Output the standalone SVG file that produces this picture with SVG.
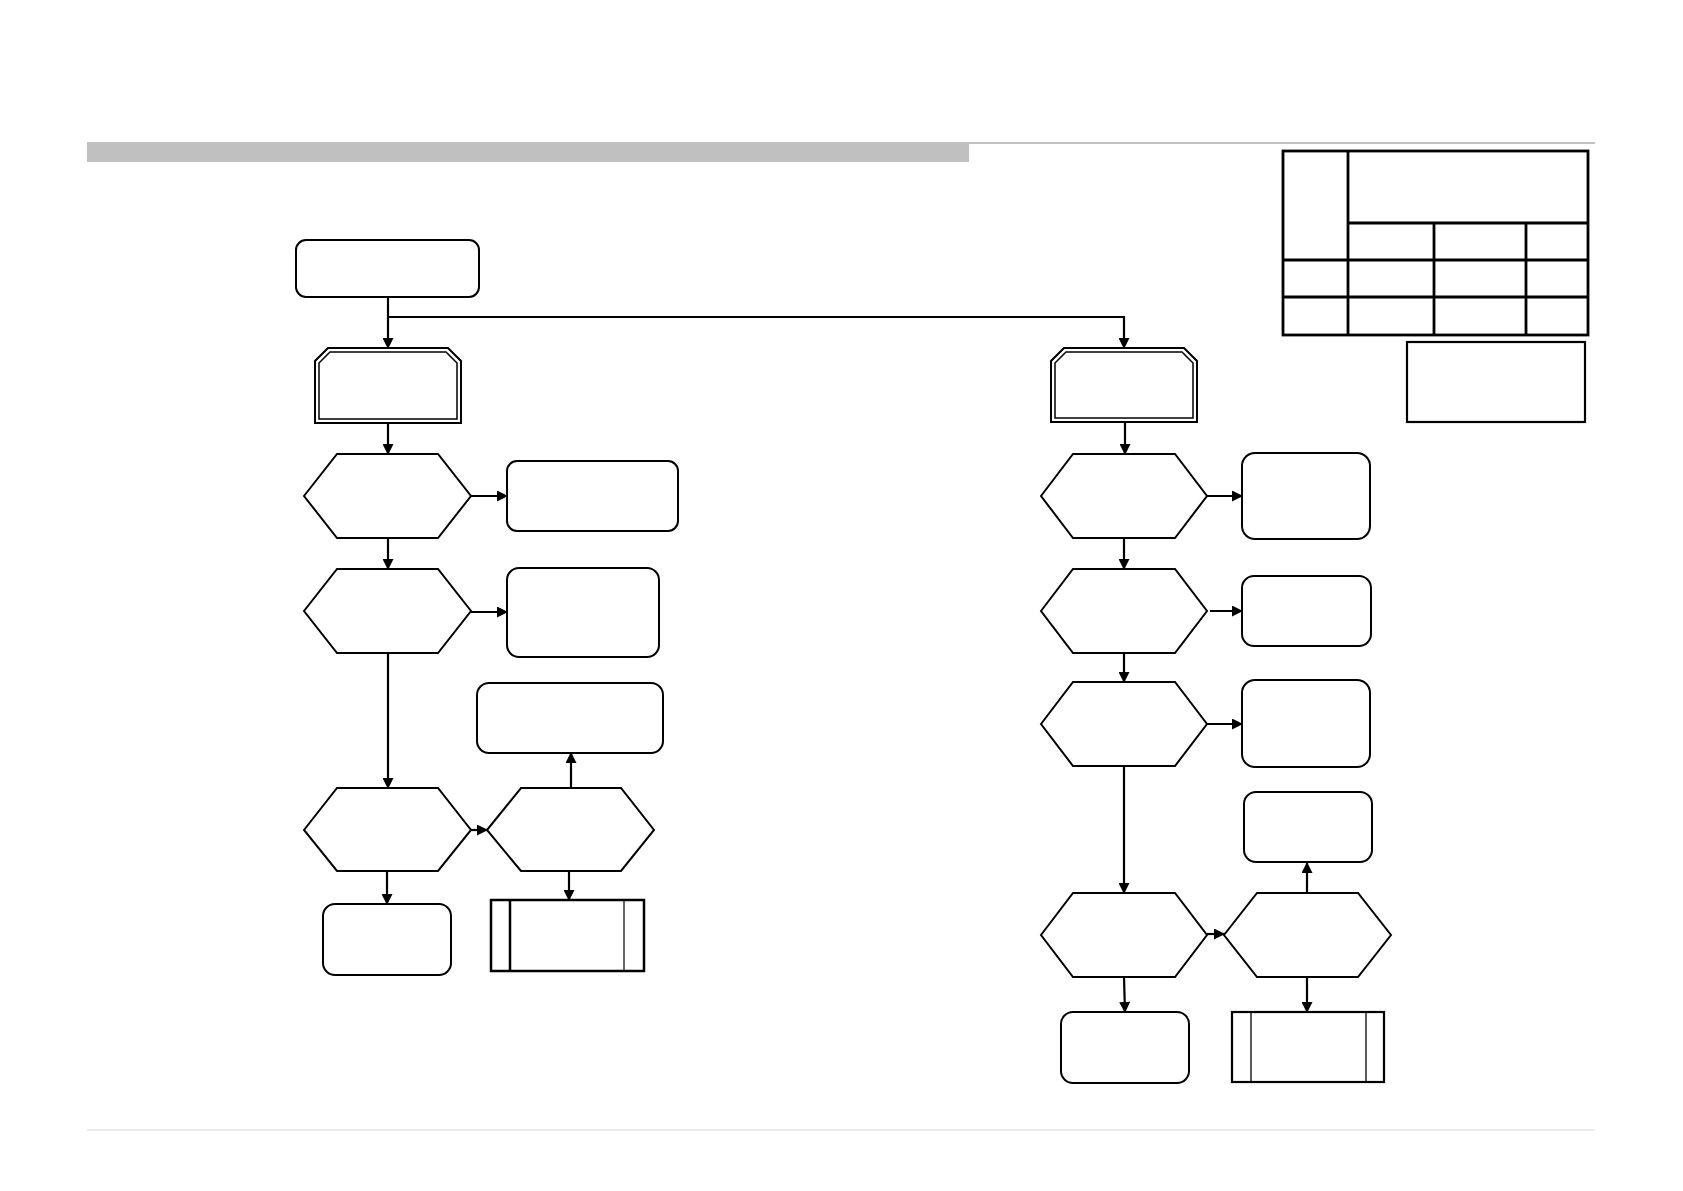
<svg xmlns="http://www.w3.org/2000/svg" width="1683" height="1191" viewBox="0 0 1683 1191">
<style>
.s{fill:#fff;stroke:#000;stroke-width:2}
.c{fill:none;stroke:#000;stroke-width:2.2}
.t{fill:none;stroke:#000;stroke-width:2.8}
</style>
<defs>
<marker id="a" viewBox="0 0 10 10" refX="10" refY="5" markerWidth="5.6" markerHeight="5" orient="auto" markerUnits="strokeWidth">
<path d="M0,0 L10,5 L0,10 Z" fill="#000"/>
</marker>
</defs>
<rect width="1683" height="1191" fill="#fff"/>
<g id="header">
<rect x="87" y="142" width="882" height="20" fill="#c0c0c0"/>
<line x1="969" y1="143" x2="1595" y2="143" stroke="#c0c0c0" stroke-width="2"/>
<line x1="87" y1="1130" x2="1595" y2="1130" stroke="#d8d8d8" stroke-width="1.2"/>
</g>
<g id="table">
<rect class="t" x="1283" y="151" width="305" height="184"/>
<line class="t" x1="1348" y1="151" x2="1348" y2="335"/>
<line class="t" x1="1348" y1="223" x2="1588" y2="223"/>
<line class="t" x1="1283" y1="260" x2="1588" y2="260"/>
<line class="t" x1="1283" y1="297" x2="1588" y2="297"/>
<line class="t" x1="1434" y1="223" x2="1434" y2="335"/>
<line class="t" x1="1526" y1="223" x2="1526" y2="335"/>
</g>
<g id="note"><rect x="1407" y="342" width="178" height="80" fill="#fff" stroke="#000" stroke-width="2.2"/></g>
<g id="connectors">
<path class="c" d="M388,297 V349" marker-end="url(#a)"/>
<path class="c" d="M388,317 H1124 V349" marker-end="url(#a)"/>
<path class="c" d="M388,423 V455" marker-end="url(#a)"/>
<path class="c" d="M471,496 H508" marker-end="url(#a)"/>
<path class="c" d="M388,538 V570" marker-end="url(#a)"/>
<path class="c" d="M471,612 H508" marker-end="url(#a)"/>
<path class="c" d="M388,653 V789" marker-end="url(#a)"/>
<path class="c" d="M471,830 H488" marker-end="url(#a)"/>
<path class="c" d="M571,788 V752" marker-end="url(#a)"/>
<path class="c" d="M387,871 V905" marker-end="url(#a)"/>
<path class="c" d="M569,871 V901" marker-end="url(#a)"/>
<path class="c" d="M1125,422 V455" marker-end="url(#a)"/>
<path class="c" d="M1207,496 H1243" marker-end="url(#a)"/>
<path class="c" d="M1124,538 V570" marker-end="url(#a)"/>
<path class="c" d="M1210,611 H1243" marker-end="url(#a)"/>
<path class="c" d="M1124,653 V683" marker-end="url(#a)"/>
<path class="c" d="M1207,724 H1243" marker-end="url(#a)"/>
<path class="c" d="M1124,766 V894" marker-end="url(#a)"/>
<path class="c" d="M1207,934 H1225" marker-end="url(#a)"/>
<path class="c" d="M1307,893 V862" marker-end="url(#a)"/>
<path class="c" d="M1124,977 L1125,1013" marker-end="url(#a)"/>
<path class="c" d="M1307,977 V1013" marker-end="url(#a)"/>
</g>
<g id="start"><rect class="s" x="296" y="240" width="183" height="57" rx="10"/></g>
<g id="L-oct">
<path class="s" d="M328,348 H448 L461,361 V423 H315 V361 Z"/>
<path fill="none" stroke="#000" stroke-width="1.5" d="M330,352 H446 L457,363 V419 H319 V363 Z"/>
</g>
<g id="L-hex1"><polygon class="s" points="304,496 337,454 438,454 471,496 438,538 337,538"/></g>
<g id="L-box1"><rect class="s" x="507" y="461" width="171" height="70" rx="10"/></g>
<g id="L-hex2"><polygon class="s" points="304,611 337,569 438,569 471,611 438,653 337,653"/></g>
<g id="L-box2"><rect class="s" x="507" y="568" width="152" height="89" rx="12"/></g>
<g id="L-hex3"><polygon class="s" points="304,830 337,788 438,788 471,830 438,871 337,871"/></g>
<g id="L-hex4"><polygon class="s" points="487,830 521,788 621,788 654,830 621,871 521,871"/></g>
<g id="L-box3"><rect class="s" x="477" y="683" width="186" height="70" rx="12"/></g>
<g id="L-end"><rect class="s" x="323" y="904" width="128" height="71" rx="12"/></g>
<g id="L-proc">
<rect x="491" y="900" width="153" height="71" fill="#fff" stroke="#000" stroke-width="2.5"/>
<line x1="510" y1="900" x2="510" y2="971" stroke="#000" stroke-width="2.5"/>
<line x1="624" y1="900" x2="624" y2="971" stroke="#000" stroke-width="1.2"/>
</g>
<g id="R-oct">
<path class="s" d="M1064,348 H1184 L1197,361 V422 H1051 V361 Z"/>
<path fill="none" stroke="#000" stroke-width="1.5" d="M1066,352 H1182 L1193,363 V418 H1055 V363 Z"/>
</g>
<g id="R-hex1"><polygon class="s" points="1041,496 1073,454 1175,454 1207,496 1175,538 1073,538"/></g>
<g id="R-box1"><rect class="s" x="1242" y="453" width="128" height="86" rx="13"/></g>
<g id="R-hex2"><polygon class="s" points="1041,611 1073,569 1175,569 1207,611 1175,653 1073,653"/></g>
<g id="R-box2"><rect class="s" x="1242" y="576" width="129" height="70" rx="12"/></g>
<g id="R-hex3"><polygon class="s" points="1041,724 1073,682 1175,682 1207,724 1175,766 1073,766"/></g>
<g id="R-box3"><rect class="s" x="1242" y="680" width="128" height="87" rx="13"/></g>
<g id="R-hex4"><polygon class="s" points="1041,935 1073,893 1175,893 1207,935 1175,977 1073,977"/></g>
<g id="R-hex5"><polygon class="s" points="1224,935 1257,893 1358,893 1391,935 1358,977 1257,977"/></g>
<g id="R-box4"><rect class="s" x="1244" y="792" width="128" height="70" rx="12"/></g>
<g id="R-end"><rect class="s" x="1061" y="1012" width="128" height="71" rx="12"/></g>
<g id="R-proc">
<rect x="1232" y="1012" width="152" height="70" fill="#fff" stroke="#000" stroke-width="2.2"/>
<line x1="1251" y1="1012" x2="1251" y2="1082" stroke="#000" stroke-width="1.3"/>
<line x1="1366" y1="1012" x2="1366" y2="1082" stroke="#000" stroke-width="1.3"/>
</g>
</svg>
